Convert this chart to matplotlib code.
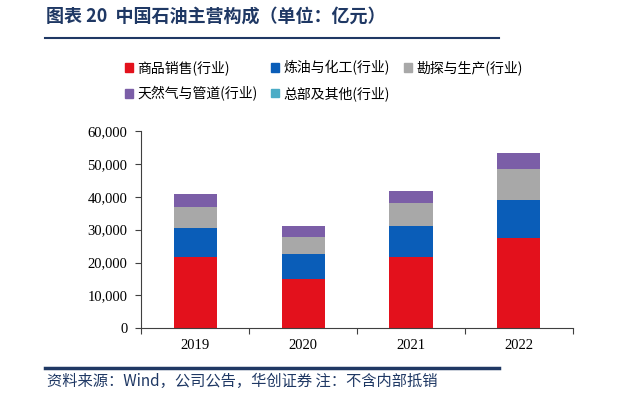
import matplotlib
matplotlib.use('Agg')
import matplotlib.pyplot as plt
from matplotlib.patches import Patch
import numpy as np

plt.rcParams['font.family'] = ['Noto Sans CJK SC', 'DejaVu Sans']

years = ['2019', '2020', '2021', '2022']
series_names = ['商品销售(行业)', '炼油与化工(行业)', '勘探与生产(行业)',
                '天然气与管道(行业)', '总部及其他(行业)']
sales = [21600, 14900, 21600, 27500]
refining = [8800, 7600, 9500, 11500]
exploration = [6600, 5200, 6900, 9300]
gas = [3900, 3500, 3900, 4900]
hq = [0, 0, 0, 0]
colors = ['#E3111C', '#0A5DB8', '#A8A8A8', '#7B5EA7', '#4BACC6']

title = '图表 20  中国石油主营构成（单位：亿元）'
source = '资料来源：Wind，公司公告，华创证券 注：不含内部抵销'
navy = '#1F3864'

fig = plt.figure(figsize=(6.4, 4.18), dpi=100)
ax = fig.add_axes([0.221, 0.2146, 0.674, 0.472])

x = np.arange(len(years))
bottom = np.zeros(len(years))
for vals, c in zip([sales, refining, exploration, gas, hq], colors):
    ax.bar(x, vals, 0.4, bottom=bottom, color=c, edgecolor='none')
    bottom += np.array(vals)

ax.set_ylim(0, 60000)
ax.set_yticks(np.arange(0, 60001, 10000))
ax.set_yticklabels([f'{v:,}' for v in range(0, 60001, 10000)],
                   family='Liberation Serif', fontsize=10.5)
ax.set_xlim(-0.5, len(years) - 0.5)
ax.set_xticks(np.arange(-0.5, len(years), 1.0))
ax.set_xticklabels([])
ax.tick_params(axis='x', length=4, direction='out', color='#404040')
ax.tick_params(axis='y', length=4, direction='out', color='#404040', pad=6)
for i, yr in enumerate(years):
    ax.text(i, -0.055, yr, transform=ax.get_xaxis_transform(), ha='center',
            va='top', family='Liberation Serif', fontsize=10.5)
for s in ['top', 'right']:
    ax.spines[s].set_visible(False)
for s in ['left', 'bottom']:
    ax.spines[s].set_color('#404040')

# legend fills column by column, so reorder to read row by row
order = [0, 3, 1, 4, 2]
handles = [Patch(color=colors[i]) for i in order]
labels = [series_names[i] for i in order]
fig.legend(handles, labels, ncol=3, loc='upper left',
           bbox_to_anchor=(0.175, 0.885), frameon=False, fontsize=10,
           handlelength=0.6, handleheight=0.6, handletextpad=0.3,
           columnspacing=1.0, labelspacing=0.75)

fig.text(0.072, 0.962, title, fontsize=13, fontweight='bold', color=navy,
         va='center', ha='left')
fig.add_artist(plt.Line2D([0.07, 0.78], [0.908, 0.908], color=navy, lw=1.5))
fig.add_artist(plt.Line2D([0.07, 0.78], [0.119, 0.119], color=navy, lw=2.5))
fig.text(0.073, 0.087, source, fontsize=11, style='italic', color=navy,
         va='center', ha='left')

fig.savefig('out.png', dpi=100)
